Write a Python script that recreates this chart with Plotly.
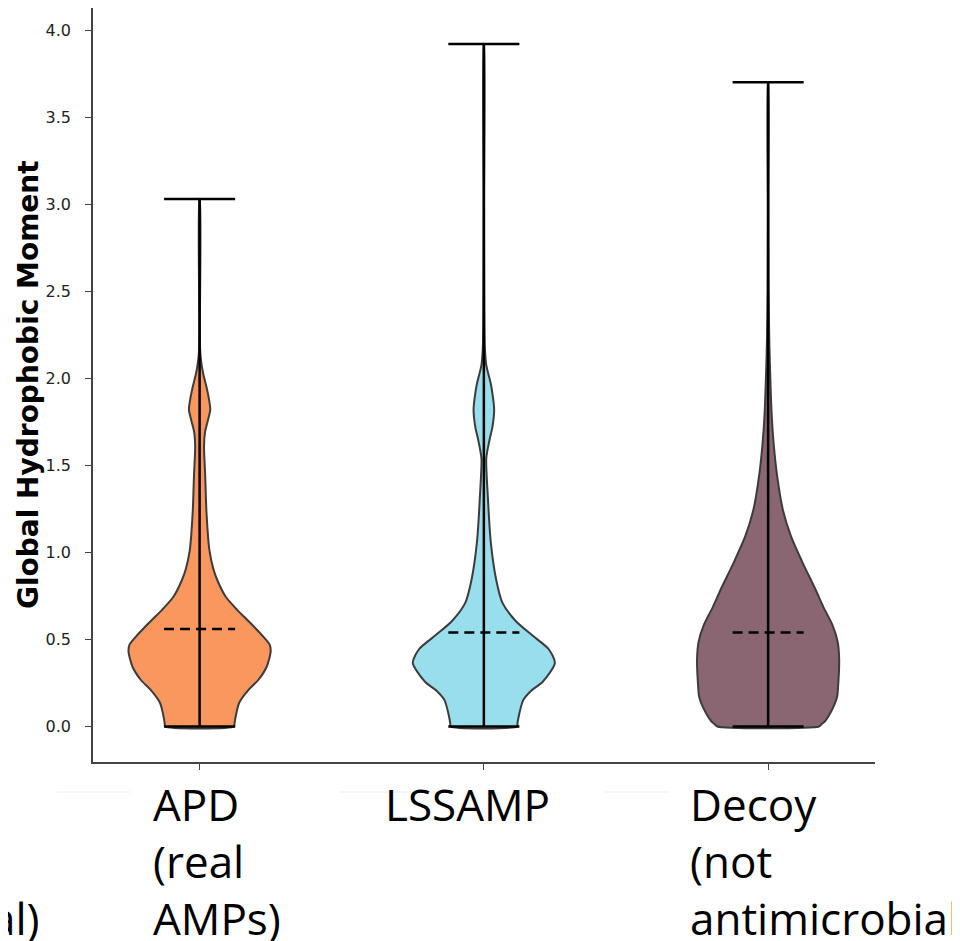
import plotly.graph_objects as go

# ---------------- data ----------------
categories = ["APD", "LSSAMP", "Decoy"]
positions = [0, 1, 2]
max_values = [3.03, 3.92, 3.70]
min_values = [0.0, 0.0, 0.0]
mean_values = [0.56, 0.54, 0.54]

# density profiles (value, relative half-width; 1.0 = widest point)
apd_y = [0.0, 0.015, 0.07, 0.135, 0.21, 0.267, 0.343, 0.43, 0.47, 0.516, 0.594, 0.67, 0.745, 0.84,
         0.905, 1.01, 1.23, 1.44, 1.607, 1.69, 1.76, 1.82, 1.88, 1.95, 2.03, 2.10, 2.16, 2.3, 3.03]
apd_w = [0.486, 0.49, 0.514, 0.556, 0.688, 0.826, 0.944, 1.0, 0.986, 0.896, 0.715, 0.528, 0.368, 0.25,
         0.194, 0.139, 0.097, 0.079, 0.0625, 0.076, 0.118, 0.15, 0.132, 0.097, 0.049, 0.021, 0.008, 0.004, 0.003]

lssamp_y = [0.0, 0.015, 0.07, 0.15, 0.204, 0.257, 0.365, 0.445, 0.525, 0.606, 0.71, 0.846, 1.06, 1.327,
            1.54, 1.647, 1.72, 1.82, 1.90, 1.97, 2.076, 2.18, 2.40, 3.0, 3.92]
lssamp_w = [0.469, 0.472, 0.497, 0.552, 0.662, 0.828, 1.0, 0.91, 0.676, 0.448, 0.262, 0.172, 0.097, 0.055,
            0.034, 0.08, 0.12, 0.145, 0.125, 0.097, 0.034, 0.014, 0.007, 0.003, 0.002]

decoy_y = [0.0, 0.012, 0.03, 0.077, 0.17, 0.233, 0.383, 0.485, 0.585, 0.686, 0.787, 0.94, 1.09, 1.243,
           1.445, 1.62, 1.80, 2.0, 2.2, 2.51, 3.0, 3.70]
decoy_w = [0.715, 0.75, 0.80, 0.875, 0.97, 0.985, 1.0, 0.979, 0.903, 0.778, 0.667, 0.486, 0.324, 0.208,
           0.125, 0.079, 0.049, 0.031, 0.017, 0.007, 0.004, 0.002]

label_texts = ["APD<br>(real<br>AMPs)", "LSSAMP", "Decoy<br>(not<br>antimicrobial)"]
y_ticks = [0.0, 0.5, 1.0, 1.5, 2.0, 2.5, 3.0, 3.5, 4.0]

# ---------------- style ----------------
colors = ["#F9975F", "#98DEEC", "#8A6672"]
outline = "#3c3c3c"
half_width = 0.25
cap_half = 0.125

profiles = [(apd_y, apd_w), (lssamp_y, lssamp_w), (decoy_y, decoy_w)]

fig = go.Figure()

for i, (ys, ws) in enumerate(profiles):
    p = positions[i]
    xr = [p + half_width * w for w in ws]
    xl = [p - half_width * w for w in ws]
    xs = xr + xl[::-1] + [xr[0]]
    yy = ys + ys[::-1] + [ys[0]]
    fig.add_trace(go.Scatter(
        x=xs, y=yy, mode="lines", fill="toself", fillcolor=colors[i],
        line=dict(color=outline, width=2, shape="spline", smoothing=0.7),
        hoverinfo="skip", showlegend=False))

for i in range(3):
    p = positions[i]
    fig.add_trace(go.Scatter(x=[p, p], y=[min_values[i], max_values[i]], mode="lines",
                             line=dict(color="black", width=2.5), showlegend=False, hoverinfo="skip"))
    fig.add_trace(go.Scatter(x=[p - cap_half, p + cap_half], y=[max_values[i]] * 2, mode="lines",
                             line=dict(color="black", width=2.5), showlegend=False, hoverinfo="skip"))
    fig.add_trace(go.Scatter(x=[p - cap_half, p + cap_half], y=[min_values[i]] * 2, mode="lines",
                             line=dict(color="black", width=2.5), showlegend=False, hoverinfo="skip"))
    fig.add_trace(go.Scatter(x=[p - cap_half, p + cap_half], y=[mean_values[i]] * 2, mode="lines",
                             line=dict(color="black", width=2.5, dash="10px,6px"),
                             showlegend=False, hoverinfo="skip"))

# geometry in screenshot pixels (page body has an 8px margin)
OFF = 8
W, H = 960, 941
L, R, T, B = 93 - OFF, 875 - OFF, 8 - OFF, 762 - OFF


def px(xp):
    return (xp - OFF - L) / (R - L)


def py(yp):
    return (B - (yp - OFF)) / (B - T)


label_font = dict(family="Open Sans", size=44, color="black")
label_left = [151, 383, 688]
for i, t in enumerate(label_texts):
    fig.add_annotation(text=t, x=px(label_left[i]), y=py(772), xref="paper", yref="paper",
                       xanchor="left", yanchor="top", showarrow=False, align="left",
                       font=label_font)
fig.add_annotation(text="al)", x=px(42), y=py(772 + 114), xref="paper", yref="paper",
                   xanchor="right", yanchor="top", showarrow=False, align="left", font=label_font)

fig.add_annotation(text="<b>Global Hydrophobic Moment</b>", textangle=-90,
                   x=px(28), y=py(385), xref="paper", yref="paper",
                   xanchor="center", yanchor="middle", showarrow=False,
                   font=dict(family="DejaVu Sans", size=28, color="black"))

for x0, x1 in [(57, 130), (340, 415), (605, 670)]:
    fig.add_shape(type="line", xref="paper", yref="paper", x0=px(x0), x1=px(x1),
                  y0=py(792), y1=py(792), line=dict(color="#ececec", width=1))

fig.update_layout(
    width=W, height=H,
    margin=dict(l=L, r=W - R, t=T, b=H - B),
    paper_bgcolor="white", plot_bgcolor="white",
    showlegend=False,
)
fig.update_xaxes(range=[-0.375, 2.376], tickvals=positions, ticktext=["", "", ""],
                 showline=True, linecolor="#444", linewidth=1.5, ticks="outside",
                 ticklen=6, tickcolor="#444", tickwidth=1.2, showgrid=False, zeroline=False)
fig.update_yaxes(range=[-0.204, 4.127], tickvals=y_ticks,
                 ticktext=[f"{v:.1f}" for v in y_ticks],
                 showline=True, linecolor="#444", linewidth=1.5, ticks="outside",
                 ticklen=6, tickcolor="#444", tickwidth=1.2, showgrid=False, zeroline=False,
                 ticklabelstandoff=11,
                 tickfont=dict(family="DejaVu Sans", size=16, color="#222"))

fig.write_html("out.html")
